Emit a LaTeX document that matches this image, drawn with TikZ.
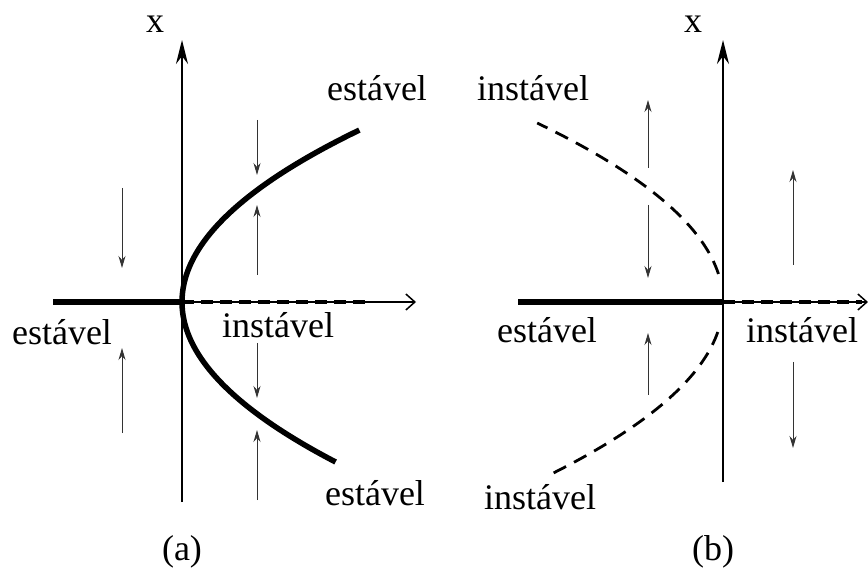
\documentclass[tikz,border=0pt]{standalone}
\usepackage{fontspec}
\setmainfont{Liberation Serif}
\usetikzlibrary{arrows.meta}

\begin{document}
\begin{tikzpicture}[
  x=1pt, y=-1pt,
  >=Stealth,
  lbl/.style={font=\fontsize{36}{40}\selectfont, inner sep=0pt},
  axis/.style={line width=1.5pt},
  uptip/.style={-{Stealth[length=24pt,width=12pt]}},
  righttip/.style={-{Straight Barb[length=9pt,width=16pt,line width=1.5pt]}},
  stable/.style={line width=5.5pt},
  unstable/.style={line width=4.5pt, dash pattern=on 12pt off 7pt},
  unstablecurve/.style={line width=2.8pt, dash pattern=on 14pt off 9pt},
  flow/.style={line width=1pt, color=black!80, -{Stealth[length=12pt,width=7pt]}},
]
\useasboundingbox (0,0) rectangle (868,569);

% ========= Panel (a): supercritical =========
\coordinate (oA) at (182,302);
\coordinate (aTop) at (182,40);
\coordinate (aBot) at (182,502);
\coordinate (aLeft) at (53,302);
\coordinate (aRight) at (416,302);
\coordinate (aDash) at (365,302);

\draw[axis, uptip] (aBot) -- (aTop);
\draw[axis, righttip] (oA) -- (aRight);
\draw[stable] (aLeft) -- (oA);
\draw[unstable] (oA) -- (aDash);
\draw[stable] plot[domain=-1.60:1.72, samples=60, smooth] ({182+60*\x*\x}, {302-100*\x});

\foreach \xa/\ya/\yb in {122/188/268, 122/433/348, 257/120/175,
                         257/275/205, 257/343/398, 257/500/430}
  \draw[flow] (\xa,\ya) -- (\xa,\yb);

\node[lbl] at (155,24) (xA) {x};
\node[lbl] at (377,88) (aUp) {estável};
\node[lbl] at (62,332) (aLeftLbl) {estável};
\node[lbl] at (278,325) (aMid) {instável};
\node[lbl] at (375,493) (aLow) {estável};
\node[lbl] at (182,552) (capA) {(a)};

% ========= Panel (b): subcritical =========
\coordinate (oB) at (723,302);
\coordinate (bTop) at (723,40);
\coordinate (bBot) at (723,482);
\coordinate (bLeft) at (518,302);
\coordinate (bRight) at (868,302);
\coordinate (bDash) at (862,302);

\draw[axis, line width=1.9pt, uptip] (bBot) -- (bTop);
\draw[axis, righttip] (oB) -- (bRight);
\draw[stable] (bLeft) -- (oB);
\draw[unstable] (oB) -- (bDash);
\draw[unstablecurve] plot[domain=0.28:1.79, samples=40, smooth] ({723-58*\x*\x}, {302-100*\x});
\draw[unstablecurve] plot[domain=-0.30:-1.73, samples=40, smooth] ({723-58*\x*\x}, {302-100*\x});

\foreach \xa/\ya/\yb in {648/168/100, 648/205/278, 648/395/333,
                         793/265/170, 793/362/448}
  \draw[flow] (\xa,\ya) -- (\xa,\yb);

\node[lbl] at (693,24) (xB) {x};
\node[lbl] at (533,88) (bUp) {instável};
\node[lbl] at (547,330) (bLeftLbl) {estável};
\node[lbl] at (802,330) (bRightLbl) {instável};
\node[lbl] at (540,497) (bLow) {instável};
\node[lbl] at (713,552) (capB) {(b)};

\end{tikzpicture}
\end{document}
